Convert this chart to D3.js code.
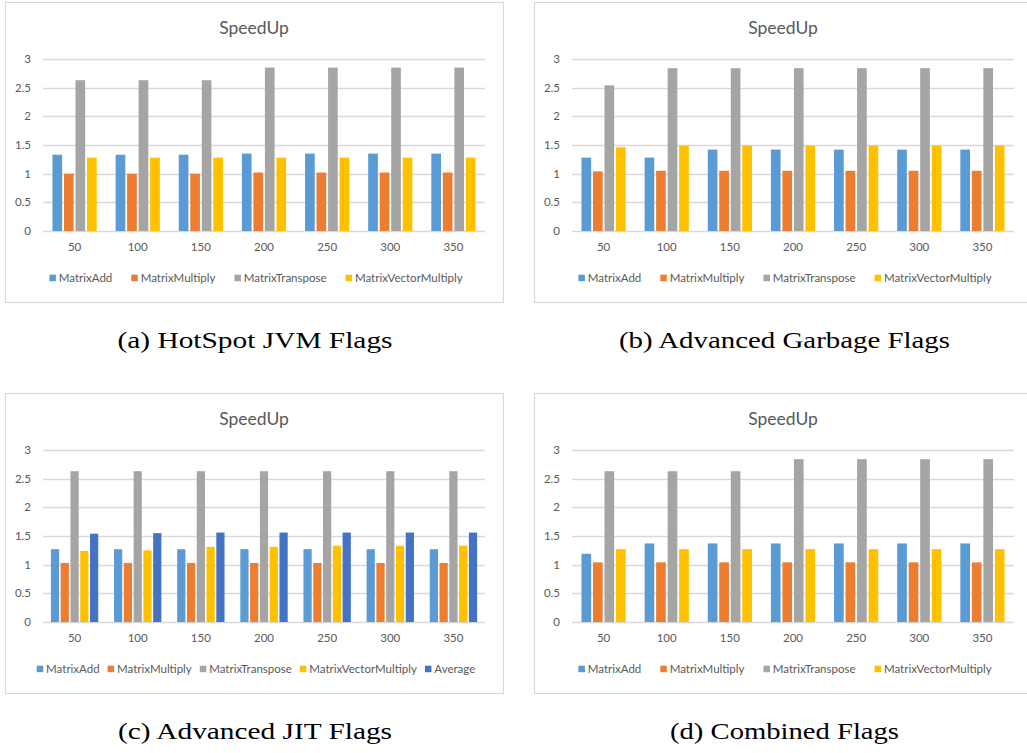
<!DOCTYPE html>
<html>
<head>
<meta charset="utf-8">
<script src="https://cdn.jsdelivr.net/npm/d3@7"></script>
<style>
  html, body { margin: 0; padding: 0; background: #ffffff; }
  svg { display: block; }
  .tick-label { font-family: Lato, "Open Sans", sans-serif; fill: #595959; }
  .caption { font-family: "Liberation Serif", "DejaVu Serif", serif; fill: #000; }
</style>
</head>
<body>
<svg id="chart" width="1027" height="753"></svg>
<script>
// Matrix sizes on the category axis
const categories = ["50", "100", "150", "200", "250", "300", "350"];
const yTicks = [0, 0.5, 1, 1.5, 2, 2.5, 3];

const seriesNames = ["MatrixAdd", "MatrixMultiply", "MatrixTranspose", "MatrixVectorMultiply", "Average"];
const seriesColors = ["#5B9BD5", "#ED7D31", "#A5A5A5", "#FFC000", "#4472C4"];

// (a) HotSpot JVM flags
const hotspotAdd       = [1.33, 1.33, 1.33, 1.35, 1.35, 1.35, 1.35];
const hotspotMultiply  = [1.00, 1.00, 1.00, 1.02, 1.02, 1.02, 1.02];
const hotspotTranspose = [2.63, 2.63, 2.63, 2.85, 2.85, 2.85, 2.85];
const hotspotVector    = [1.28, 1.28, 1.28, 1.28, 1.28, 1.28, 1.28];

// (b) Advanced garbage collection flags
const garbageAdd       = [1.28, 1.28, 1.42, 1.42, 1.42, 1.42, 1.42];
const garbageMultiply  = [1.04, 1.05, 1.05, 1.05, 1.05, 1.05, 1.05];
const garbageTranspose = [2.54, 2.84, 2.84, 2.84, 2.84, 2.84, 2.84];
const garbageVector    = [1.46, 1.49, 1.49, 1.49, 1.49, 1.49, 1.49];

// (c) Advanced JIT flags
const jitAdd       = [1.27, 1.27, 1.27, 1.27, 1.27, 1.27, 1.27];
const jitMultiply  = [1.03, 1.03, 1.03, 1.03, 1.03, 1.03, 1.03];
const jitTranspose = [2.63, 2.63, 2.63, 2.63, 2.63, 2.63, 2.63];
const jitVector    = [1.24, 1.25, 1.31, 1.31, 1.33, 1.33, 1.33];
const jitAverage   = [1.54, 1.55, 1.56, 1.56, 1.56, 1.56, 1.56];

// (d) Combined flags
const combinedAdd       = [1.19, 1.37, 1.37, 1.37, 1.37, 1.37, 1.37];
const combinedMultiply  = [1.04, 1.04, 1.04, 1.04, 1.04, 1.04, 1.04];
const combinedTranspose = [2.63, 2.63, 2.63, 2.84, 2.84, 2.84, 2.84];
const combinedVector    = [1.27, 1.27, 1.27, 1.27, 1.27, 1.27, 1.27];

const chartTitle = "SpeedUp";
const captions = ["(a) HotSpot JVM Flags", "(b) Advanced Garbage Flags", "(c) Advanced JIT Flags", "(d) Combined Flags"];

const panels = [
  { x: 5,   y: 2,   caption: captions[0], capX: 255,   capY: 348, capLen: 275,
    values: [hotspotAdd, hotspotMultiply, hotspotTranspose, hotspotVector] },
  { x: 534, y: 2,   caption: captions[1], capX: 784.5, capY: 348, capLen: 331,
    values: [garbageAdd, garbageMultiply, garbageTranspose, garbageVector] },
  { x: 5,   y: 393, caption: captions[2], capX: 255,   capY: 739, capLen: 274,
    values: [jitAdd, jitMultiply, jitTranspose, jitVector, jitAverage] },
  { x: 534, y: 393, caption: captions[3], capX: 784.5, capY: 739, capLen: 229,
    values: [combinedAdd, combinedMultiply, combinedTranspose, combinedVector] }
];

const svg = d3.select("#chart");
const W = 498, H = 300;
const plot = { left: 38, right: 480, top: 57, bottom: 229 };

function drawPanel(p) {
  const g = svg.append("g").attr("transform", `translate(${p.x},${p.y})`);
  const n = p.values.length;
  const names = seriesNames.slice(0, n);

  g.append("rect")
    .attr("x", 0.5).attr("y", 0.5).attr("width", W).attr("height", H)
    .attr("fill", "#ffffff").attr("stroke", "#d9d9d9").attr("stroke-width", 1.2);

  g.append("text")
    .attr("x", W / 2).attr("y", 32)
    .attr("text-anchor", "middle")
    .attr("class", "tick-label")
    .style("font-size", "17.5px")
    .text(chartTitle);

  const y = d3.scaleLinear().domain([0, 3]).range([plot.bottom, plot.top]);
  const x0 = d3.scaleBand().domain(categories).range([plot.left, plot.right])
    .paddingInner(n === 5 ? 0.25 : 0.3).paddingOuter(n === 5 ? 0.125 : 0.15);
  const x1 = d3.scaleBand().domain(names).range([0, x0.bandwidth()]).paddingInner(0.16);

  // horizontal gridlines
  g.append("g").selectAll("line").data(yTicks).join("line")
    .attr("x1", plot.left).attr("x2", plot.right)
    .attr("y1", d => Math.round(y(d)) + 0.5).attr("y2", d => Math.round(y(d)) + 0.5)
    .attr("stroke", "#d9d9d9").attr("stroke-width", 1.3);

  // y tick labels
  g.append("g").selectAll("text").data(yTicks).join("text")
    .attr("class", "tick-label")
    .attr("x", plot.left - 12).attr("y", d => y(d)).attr("dy", "0.36em")
    .attr("text-anchor", "end").style("font-size", "11.5px")
    .text(d => d3.format("~g")(d));

  // x category labels
  g.append("g").selectAll("text").data(categories).join("text")
    .attr("class", "tick-label")
    .attr("x", d => x0(d) + x0.bandwidth() / 2).attr("y", plot.bottom + 20)
    .attr("text-anchor", "middle").style("font-size", "11.5px")
    .text(d => d);

  // bars
  const rows = [];
  categories.forEach((c, ci) => names.forEach((s, si) => rows.push({ c, s, si, v: p.values[si][ci] })));
  g.append("g").selectAll("rect").data(rows).join("rect")
    .attr("x", d => x0(d.c) + x1(d.s))
    .attr("width", x1.bandwidth())
    .attr("y", d => y(d.v))
    .attr("height", d => y(0) - y(d.v))
    .attr("fill", d => seriesColors[d.si]);

  // legend, centred below the plot
  const lg = g.append("g");
  const gap = n === 5 ? 8 : 19;
  let cx = 0;
  names.forEach((s, i) => {
    const item = lg.append("g").attr("transform", `translate(${cx},0)`);
    item.append("rect").attr("x", 0).attr("y", -3.3).attr("width", 6.5).attr("height", 6.5)
      .attr("fill", seriesColors[i]);
    const t = item.append("text").attr("class", "tick-label")
      .attr("x", 9.4).attr("y", 0).attr("dy", "0.36em").style("font-size", "11.5px").text(s);
    cx += 9.4 + t.node().getComputedTextLength() + (i < n - 1 ? gap : 0);
  });
  lg.attr("transform", `translate(${W / 2 + 2 - cx / 2},276)`);
}

panels.forEach(drawPanel);

// sub-figure captions
svg.append("g").selectAll("text").data(panels).join("text")
  .attr("class", "caption")
  .attr("x", d => d.capX).attr("y", d => d.capY)
  .attr("text-anchor", "middle")
  .attr("textLength", d => d.capLen)
  .attr("lengthAdjust", "spacingAndGlyphs")
  .style("font-size", "23px")
  .text(d => d.caption);
</script>
</body>
</html>
